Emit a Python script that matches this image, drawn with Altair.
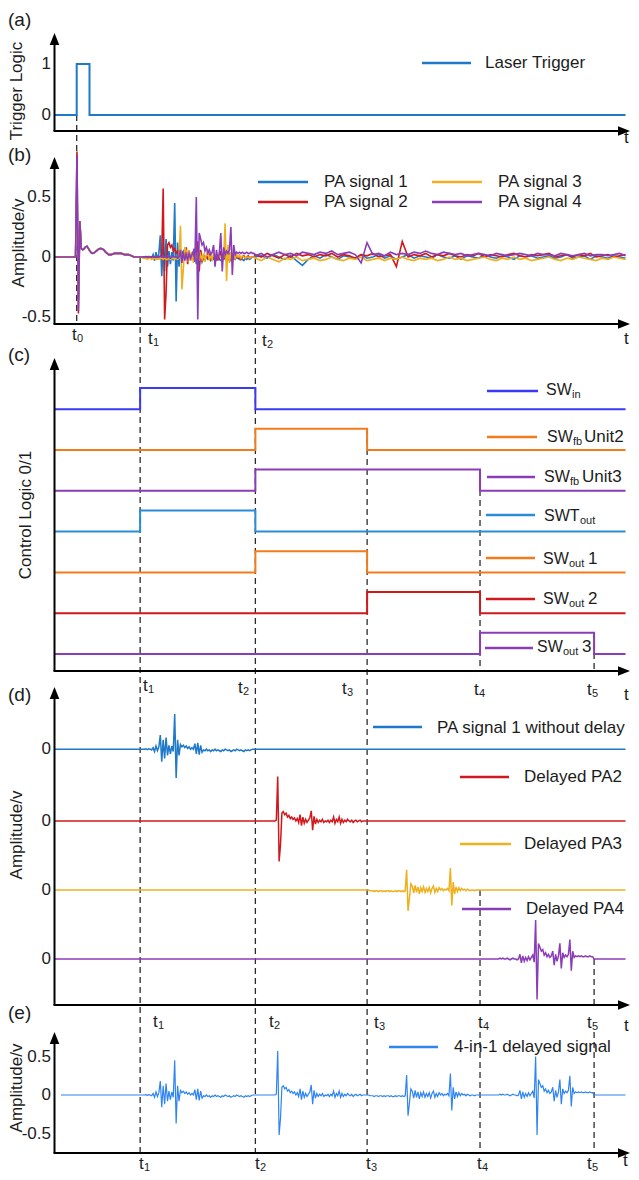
import altair as alt
import pandas as pd

# ---------------- data ----------------
EVENT_NAMES = ["t0", "t1", "t2", "t3", "t4", "t5"]
EVENT_TIMES = [3.9, 14.8, 34.6, 53.8, 73.2, 92.8]
T_END = 98.2
EV = dict(zip(EVENT_NAMES, EVENT_TIMES))

TRIGGER_T = [0.0, 3.9, 6.1, 98.2]
TRIGGER_LEVEL = [0, 1, 0, 0]

PA_NAMES = ["PA signal 1", "PA signal 2", "PA signal 3", "PA signal 4"]

# response common to all channels before t1 (laser-induced spike + ringing)
PRE_HEAD = [0.0, 0.0, 0.0, 0.0, 0.0, 0.0, 0.0, 0.0, 0.0, 0.0, 0.0, 0.0, 0.0, 0.0, 0.0, 0.0]
SPIKE_PEAK = [0.62, 0.88, 0.55, 0.85]
SPIKE_TROUGH = [-0.35, -0.47, -0.30, -0.45]
PRE_TAIL = [0.3, 0.07, 0.06, 0.07, 0.085, 0.09, 0.07, 0.05, 0.035, 0.03, 0.035, 0.045,
            0.055, 0.065, 0.07, 0.07, 0.065, 0.055, 0.04, 0.03, 0.02, 0.02, 0.02, 0.025,
            0.03, 0.03, 0.03, 0.03, 0.03, 0.03, 0.025, 0.02, 0.02, 0.02, 0.02, 0.015,
            0.01, 0.005, 0.0, 0.0, 0.0, 0.0]

# PA bursts (V), one acquisition window each
BURST_PA1 = [0, 0, 0, 0, 0.005, -0.005, 0.005, 0, -0.01,
             0.02, -0.03, 0.04, -0.02, 0.03,
             0.18, -0.16, 0.12, -0.12, 0.15, -0.08,
             0.05, -0.06, 0.04, -0.03,
             0.45, -0.37, 0.12, -0.08,
             0.06, 0.03, 0.05, 0.02, 0.04, 0.01, 0.03, 0.0, 0.02, 0.0,
             0.07, -0.06, 0.08, -0.07, 0.05, -0.04,
             -0.01, -0.02, 0.0, -0.02, -0.01, -0.03, -0.01, -0.02, 0.0, -0.02,
             -0.01, -0.02, -0.03, -0.01, -0.02, 0.0, -0.01, -0.02, -0.01, -0.03,
             -0.02, -0.01, -0.02, 0.0, -0.01, -0.02, -0.01, -0.02, -0.03, -0.01,
             -0.02, -0.01, -0.02, -0.01, 0.0, 0.0]
BURST_PA2 = [0, 0, 0, 0, 0, 0, 0, 0, 0, 0, 0, 0, 0, 0, 0, 0.01,
             0.57, -0.52, -0.3, 0.1,
             0.12, 0.08, 0.1, 0.05, 0.07, 0.03, 0.05, 0.02,
             0.04, 0.0, 0.03, -0.02, 0.08, -0.06, 0.05, -0.03,
             0.02, -0.02, 0.01, 0.04, 0.13, -0.12, 0.06, -0.04,
             0.02, -0.02, 0.01, -0.01, 0.02, -0.02, 0.0, -0.01, 0.01, -0.02, 0.01, -0.01,
             0.05, -0.03, 0.02, -0.01, 0.05, -0.03, 0.02, -0.02,
             0.01, -0.01, 0.02, 0.0, -0.01, 0.01, -0.02, 0.0, 0.01, -0.01, 0.0, 0.01,
             -0.01, 0.0, 0.0, 0.0]
BURST_PA3 = [0, 0, -0.01, -0.01, -0.01, -0.02, -0.01, -0.01, -0.02, -0.01, -0.01, -0.02,
             -0.01, -0.02, -0.01, -0.01, -0.02, -0.01, -0.02, -0.02, -0.01, -0.02, -0.01,
             -0.01, -0.02, -0.01, -0.02, -0.01,
             0.26, -0.27, -0.1, 0.08,
             0.05, -0.04, 0.06, -0.03, 0.04, -0.05, 0.03, -0.02, 0.04, -0.03, 0.02, -0.02,
             0.03, -0.04, 0.02, 0.05, -0.03, 0.02, -0.02, 0.03, 0.0, 0.02, -0.01, 0.01,
             0.0, 0.02, -0.01,
             0.28, -0.2, 0.1, -0.05,
             0.04, -0.02, 0.03, -0.01, 0.02, 0.0, 0.01, -0.01, 0.01, 0.0, -0.01, 0.0,
             0.0, -0.01, 0.0, 0.0, 0.0]
BURST_PA4 = [0, 0, 0, 0, 0, 0, 0, 0, 0, 0, 0, 0, 0, 0, 0.01, 0, 0.01, 0, 0, 0.01, 0,
             -0.01, 0, 0.01, 0, 0, -0.01, 0,
             0.06, -0.05, 0.04, -0.03,
             0.02, -0.02, 0.03, -0.01, 0.02, 0.05, -0.04,
             0.5, -0.52, 0.2, 0.15,
             0.1, 0.12, 0.05, 0.08, 0.03, 0.06, 0.02, 0.04,
             0.1, -0.08, 0.06, -0.03, 0.04,
             0.2, -0.12, 0.08, 0.02,
             0.05, 0.03, 0.06,
             0.25, -0.15, 0.1, 0.02,
             0.04, 0.03, 0.04, 0.03, 0.04, 0.03, 0.03, 0.04, 0.03, 0.03, 0.04, 0.03, 0.03]
BURSTS = [BURST_PA1, BURST_PA2, BURST_PA3, BURST_PA4]

# raw channels after t2 (noise floor with a few small spikes)
TAIL_PA1 = [0.0, 0.01, -0.01, 0.02, 0.0, -0.02, 0.01, -0.03, -0.07, -0.02,
            0.01, -0.01, 0.02, 0.0, -0.02, 0.01, 0.0, -0.01, 0.02, -0.01,
            0.0, 0.02, -0.01, 0.01, -0.02, 0.0, 0.02, -0.01, 0.01, 0.0,
            -0.01, 0.02, 0.0, -0.01, 0.01, -0.02, 0.01, 0.0, -0.01, 0.02,
            0.0, -0.01, 0.01, 0.0, -0.02, 0.01, 0.0, 0.01, -0.01, 0.0,
            0.01, -0.01, 0.0, 0.02, -0.01, 0.0, 0.01, -0.02, 0.01, 0.0,
            -0.01, 0.01, 0.0, -0.01]
TAIL_PA2 = [0.02, 0.0, 0.03, 0.01, -0.01, 0.02, 0.0, 0.03, 0.01, 0.02,
            0.0, 0.02, 0.01, 0.03, 0.0, 0.02, 0.01, -0.01, 0.02, 0.01,
            0.03, 0.0, 0.01, 0.02, -0.08, 0.13, 0.0, 0.02, 0.01, 0.03,
            0.0, 0.02, 0.01, 0.03, 0.01, 0.0, 0.02, 0.01, 0.03, 0.0,
            0.02, 0.01, 0.0, 0.02, 0.03, 0.01, 0.0, 0.02, 0.01, 0.02,
            0.03, 0.0, 0.01, 0.02, 0.0, 0.02, 0.01, 0.03, 0.0, 0.01,
            0.02, 0.0, 0.01, 0.02]
TAIL_PA3 = [-0.01, -0.03, 0.0, -0.02, -0.04, -0.01, -0.02, 0.0, -0.03, -0.02,
            -0.01, -0.03, -0.02, 0.0, -0.02, -0.03, -0.01, -0.02, 0.0, -0.03,
            -0.02, -0.01, -0.03, -0.01, -0.02, 0.0, -0.02, -0.03, -0.01, -0.02,
            -0.01, -0.03, -0.02, 0.0, -0.02, -0.01, -0.03, -0.02, -0.01, 0.0,
            -0.02, -0.03, -0.01, -0.02, 0.0, -0.02, -0.01, -0.03, -0.02, -0.01,
            0.0, -0.02, -0.03, -0.01, -0.02, 0.0, -0.01, -0.02, -0.03, -0.01,
            -0.02, 0.0, -0.01, -0.02]
TAIL_PA4 = [0.01, 0.03, 0.0, 0.02, 0.04, 0.02, 0.03, 0.01, 0.04, 0.03,
            0.02, 0.04, 0.03, 0.05, 0.02, 0.03, 0.04, 0.02, -0.05, 0.12,
            0.02, 0.03, 0.01, 0.04, 0.02, 0.03, 0.02, 0.04, 0.03, 0.05,
            0.03, 0.02, 0.04, 0.03, 0.02, 0.03, 0.01, 0.02, 0.03, 0.02,
            0.01, 0.03, 0.02, 0.01, 0.02, 0.03, 0.02, 0.01, 0.03, 0.02,
            0.02, 0.01, 0.03, 0.02, 0.01, 0.02, 0.03, 0.01, 0.02, 0.02,
            0.01, 0.02, 0.03, 0.01]
TAILS = [TAIL_PA1, TAIL_PA2, TAIL_PA3, TAIL_PA4]

LOGIC_NAMES = ["SWin", "SWfb Unit2", "SWfb Unit3", "SWTout", "SWout 1", "SWout 2", "SWout 3"]
LOGIC_RISE = ["t1", "t2", "t2", "t1", "t2", "t3", "t4"]
LOGIC_FALL = ["t2", "t3", "t4", "t2", "t3", "t4", "t5"]

# ---------------- styles / layout ----------------
FONT = "Liberation Sans"
TXT = "#1c1c1c"
BLUE = "#1F78C8"
RED = "#D0191C"
YELLOW = "#EDB120"
PURPLE = "#8B3DB8"
ORANGE = "#F27B1C"
SWIN = "#3A3AF4"
SWT = "#2A8BD6"
EBLUE = "#2E84F2"
PA_COLORS = [BLUE, RED, YELLOW, PURPLE]
LOGIC_COLORS = [SWIN, ORANGE, PURPLE, SWT, ORANGE, RED, PURPLE]
LOGIC_ROW = [6, 5, 4, 3, 2, 1, 0]
LOGIC_HIGH = 0.52
D_OFFSET = [2.69, 1.77, 0.885, 0.0]

W, H = 623, 1164
PXU = 5.82           # pixels per time unit
X0 = 46              # y-axis position (local px)
XS = alt.Scale(domain=[-X0 / PXU, (W - X0) / PXU], nice=False, zero=False)


def ys(y0, k):
    return alt.Scale(domain=[(y0 - 8 - H) / k, (y0 - 8) / k], nice=False, zero=False)


YA, YB, YC, YD, YE = ys(115, 51), ys(257, 120), ys(654, 40.8), ys(959, 78), ys(1095, 77)


def line(t, v, color, scale, width, interp="linear"):
    df = pd.DataFrame({"t": t, "v": v})
    return alt.Chart(df).mark_line(color=color, strokeWidth=width, interpolate=interp).encode(
        x=alt.X("t:Q", scale=XS, axis=None), y=alt.Y("v:Q", scale=scale, axis=None))


def grid(start, end, n):
    return [start + i * (end - start) / n for i in range(n)]


layers = []

# dashed time markers (page px spans)
dash_rows = [("t0", 115, 324), ("t1", 257, 1153), ("t2", 258, 1153), ("t3", 429, 1153),
             ("t4", 470, 671), ("t4", 890, 1005), ("t4", 1032, 1153),
             ("t5", 633, 671), ("t5", 959, 1005), ("t5", 1032, 1153)]
dash_df = pd.DataFrame({"t": [EV[r[0]] for r in dash_rows],
                        "y1": [r[1] - 8 for r in dash_rows], "y2": [r[2] - 8 for r in dash_rows]})
layers.append(alt.Chart(dash_df).mark_rule(color="#2b2b2b", strokeWidth=1.3, strokeDash=[6, 4]).encode(
    x=alt.X("t:Q", scale=XS, axis=None), y=alt.Y("y1:Q", scale=None), y2="y2:Q"))

# (a) laser trigger
layers.append(line(TRIGGER_T, TRIGGER_LEVEL, BLUE, YA, 2, "step-after"))

# (b) raw PA signals
t1, t2 = EV["t1"], EV["t2"]
for k in range(4):
    pre = PRE_HEAD + [SPIKE_PEAK[k], SPIKE_TROUGH[k]] + PRE_TAIL
    tt = grid(0, t1, len(pre)) + grid(t1, t2, len(BURSTS[k])) + \
        [t2 + j * (T_END - t2) / (len(TAILS[k]) - 1) for j in range(len(TAILS[k]))]
    vv = pre + BURSTS[k] + TAILS[k]
    layers.append(line(tt, vv, PA_COLORS[k], YB, 1.6))

# (c) control logic
for i in range(7):
    r, f = EV[LOGIC_RISE[i]], EV[LOGIC_FALL[i]]
    lv = [0, 1, 0, 0]
    layers.append(line([0, r, f, T_END], [LOGIC_ROW[i] + LOGIC_HIGH * x for x in lv],
                       LOGIC_COLORS[i], YC, 2, "step-after"))

# (d) delayed signals, (e) combined
win = ["t1", "t2", "t3", "t4", "t5"]
e_t, e_v = [1.2], [0.0]
for k in range(4):
    a, b = EV[win[k]], EV[win[k + 1]]
    bt = grid(a, b, len(BURSTS[k]))
    tt = [0.0] + bt + [b, T_END]
    vv = [0.0] + BURSTS[k] + [0.0, 0.0]
    layers.append(line(tt, [D_OFFSET[k] + x for x in vv], PA_COLORS[k], YD, 1.5))
    e_t += bt
    e_v += BURSTS[k]
e_t += [EV["t5"], T_END]
e_v += [0.0, 0.0]
layers.append(line(e_t, e_v, EBLUE, YE, 1.2))

# axes (page px)
AX = [(33, 131), (157, 324), (358, 671), (687, 1005), (1032, 1153)]
XTIP = 630  # page x of arrow tips
ax_v = pd.DataFrame({"x": [X0 + 0.5] * 5, "y1": [a[0] + 6 - 8 for a in AX], "y2": [a[1] - 8 for a in AX]})
ax_h = pd.DataFrame({"x1": [X0 - 0.5] * 5, "x2": [XTIP - 6 - 8] * 5, "y": [a[1] - 8 for a in AX]})
layers.append(alt.Chart(ax_v).mark_rule(color="black", strokeWidth=2).encode(
    x=alt.X("x:Q", scale=None), y=alt.Y("y1:Q", scale=None), y2="y2:Q"))
layers.append(alt.Chart(ax_h).mark_rule(color="black", strokeWidth=2).encode(
    x=alt.X("x1:Q", scale=None), x2="x2:Q", y=alt.Y("y:Q", scale=None)))
up_df = pd.DataFrame({"x": [X0 + 0.5] * 5, "y": [a[0] + 6 - 8 for a in AX]})
rt_df = pd.DataFrame({"x": [XTIP - 6 - 8] * 5, "y": [a[1] - 8 for a in AX]})
layers.append(alt.Chart(up_df).mark_point(shape="M0,-1L0.8,1L-0.8,1Z", size=144, filled=True,
                                          color="black", opacity=1, strokeWidth=0).encode(
    x=alt.X("x:Q", scale=None), y=alt.Y("y:Q", scale=None)))
layers.append(alt.Chart(rt_df).mark_point(shape="M1,0L-1,0.8L-1,-0.8Z", size=144, filled=True,
                                          color="black", opacity=1, strokeWidth=0).encode(
    x=alt.X("x:Q", scale=None), y=alt.Y("y:Q", scale=None)))

# legend swatches (page px)
sw = [(BLUE, 422, 471, 63), (BLUE, 258, 308, 182), (RED, 258, 308, 202),
      (YELLOW, 432, 482, 182), (PURPLE, 432, 482, 202),
      (SWIN, 487, 538, 391), (ORANGE, 487, 537, 437), (PURPLE, 487, 535, 477),
      (SWT, 486, 535, 515), (ORANGE, 486, 535, 558), (RED, 486, 535, 599), (PURPLE, 485, 533, 648),
      (BLUE, 373, 422, 727), (RED, 460, 509, 777), (YELLOW, 460, 511, 844), (PURPLE, 462, 511, 909),
      (EBLUE, 389, 438, 1047)]
sw_df = pd.DataFrame({"c": [s[0] for s in sw], "x1": [s[1] - 8 for s in sw],
                      "x2": [s[2] - 8 for s in sw], "y": [s[3] - 8 for s in sw]})
layers.append(alt.Chart(sw_df).mark_rule(strokeWidth=2.5).encode(
    x=alt.X("x1:Q", scale=None), x2="x2:Q", y=alt.Y("y:Q", scale=None),
    color=alt.Color("c:N", scale=None)))


def texts(rows, size, align="left", angle=0):
    df = pd.DataFrame({"text": [r[0] for r in rows], "x": [r[1] - 8 for r in rows],
                       "y": [r[2] - 8 for r in rows]})
    return alt.Chart(df).mark_text(align=align, baseline="middle", fontSize=size, font=FONT,
                                   color=TXT, angle=angle).encode(
        x=alt.X("x:Q", scale=None), y=alt.Y("y:Q", scale=None), text="text:N")


def ticks(labels, values, scale):
    df = pd.DataFrame({"text": labels, "v": values, "x": [51 - 8] * len(labels)})
    return alt.Chart(df).mark_text(align="right", baseline="middle", fontSize=17, font=FONT,
                                   color=TXT).encode(
        x=alt.X("x:Q", scale=None), y=alt.Y("v:Q", scale=scale, axis=None), text="text:N")


layers.append(ticks(["1", "0"], [1, 0], YA))
layers.append(ticks(["0.5", "0", "-0.5"], [0.5, 0, -0.5], YB))
layers.append(ticks(["0", "0", "0", "0"], D_OFFSET, YD))
layers.append(ticks(["0.5", "0", "-0.5"], [0.5, 0, -0.5], YE))

main = [("Laser Trigger", 485, 63),
        ("PA signal 1", 324, 182), ("PA signal 2", 324, 202),
        ("PA signal 3", 498, 182), ("PA signal 4", 498, 202),
        ("PA signal 1 without delay", 437, 728), ("Delayed PA2", 524, 777),
        ("Delayed PA3", 524, 844), ("Delayed PA4", 526, 909),
        ("4-in-1 delayed signal", 454, 1047),
        ("Unit2", 584, 437), ("Unit3", 582, 477), ("1", 588, 559), ("2", 588, 599), ("3", 582, 647)]
tl = [("t", 624, 138),
      ("t", 72, 335), ("t", 148, 339), ("t", 262, 341), ("t", 624, 339),
      ("t", 143, 686), ("t", 238, 688), ("t", 342, 689), ("t", 474, 690), ("t", 587, 690), ("t", 624, 695),
      ("t", 153, 1022), ("t", 269, 1022), ("t", 374, 1023), ("t", 478, 1023), ("t", 587, 1023), ("t", 624, 1026),
      ("t", 139, 1164), ("t", 255, 1164), ("t", 366, 1164), ("t", 477, 1164), ("t", 587, 1164), ("t", 623, 1161)]
tsub = [("0", 77, 339), ("1", 153, 343), ("2", 267, 345),
        ("1", 148, 690), ("2", 243, 692), ("3", 347, 693), ("4", 479, 694), ("5", 592, 694),
        ("1", 158, 1026), ("2", 274, 1026), ("3", 379, 1027), ("4", 483, 1027), ("5", 592, 1027),
        ("1", 144, 1168), ("2", 260, 1168), ("3", 371, 1168), ("4", 482, 1168), ("5", 592, 1168)]
sw_main = [("SW", 546, 390), ("SW", 547, 437), ("SW", 544, 477),
           ("SWT", 544, 516), ("SW", 543, 559), ("SW", 543, 599), ("SW", 537, 647)]
sw_sub = [("in", 572, 395), ("fb", 573, 442), ("fb", 570, 482), ("out", 580, 521),
          ("out", 569, 564), ("out", 569, 604), ("out", 563, 652)]
layers.append(texts(main, 17))
layers.append(texts(tl, 17))
layers.append(texts(tsub, 11))
layers.append(texts(sw_main, 16))
layers.append(texts(sw_sub, 11))
layers.append(texts([("(a)", 8, 20), ("(b)", 8, 155), ("(c)", 8, 355), ("(d)", 8, 695), ("(e)", 8, 1013)], 19))
layers.append(texts([("Trigger Logic", 17, 91), ("Amplitude/v", 19, 243), ("Control Logic 0/1", 26, 515),
                     ("Amplitude/v", 17, 835), ("Amplitude/v", 17, 1088)], 17, align="center", angle=270))

chart = alt.layer(*layers).resolve_scale(y="independent").properties(
    width=W, height=H, padding=0, autosize=alt.AutoSizeParams(type="none")
).configure_view(stroke=None)

chart.save("out.html", embed_options={"renderer": "svg", "actions": False})
